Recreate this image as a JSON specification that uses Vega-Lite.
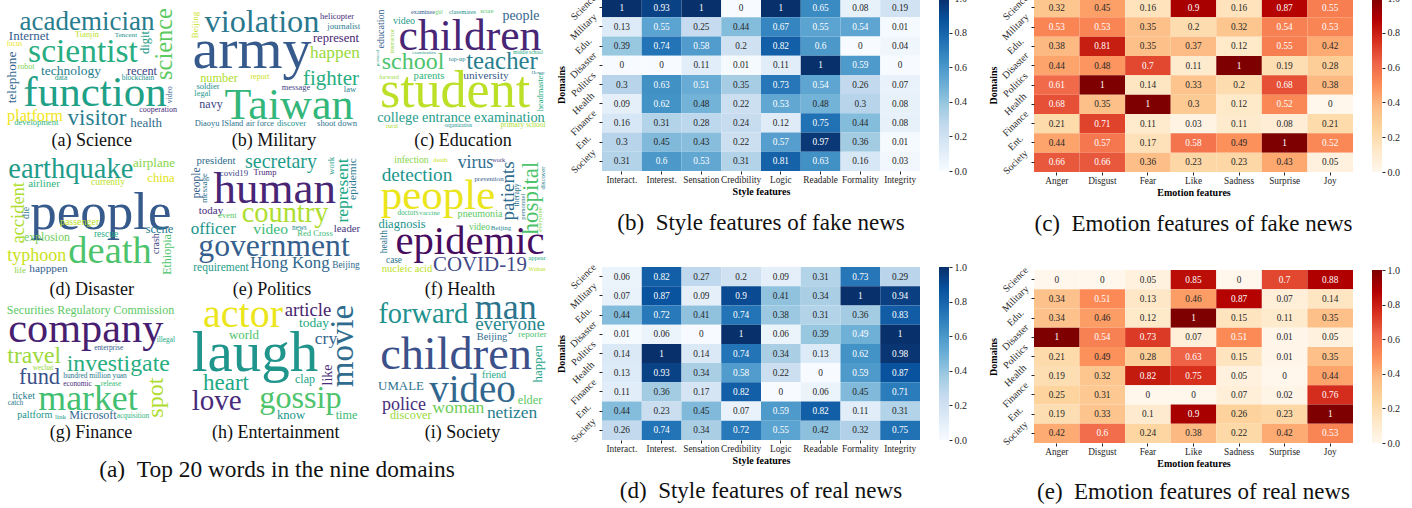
{"$schema":"https://vega.github.io/schema/vega-lite/v6.json","background":"white","autosize":{"type":"none"},"padding":{"left":0,"top":-2,"right":1412,"bottom":510},"spacing":21,"resolve":{"scale":{"color":"independent"}},"config":{"view":{"stroke":null},"font":"Liberation Serif","title":{"font":"Liberation Serif","fontWeight":"normal","fontSize":23,"orient":"bottom","anchor":"middle","frame":"group","offset":16,"color":"#111"},"axis":{"labelFont":"Liberation Serif","titleFont":"Liberation Serif","labelFontSize":10,"titleFontSize":10,"titleFontWeight":"bold","titleColor":"#000","labelColor":"#262626","tickColor":"#262626","tickSize":3,"domain":false,"grid":false,"labelOverlap":false,"labelBound":false,"labelFlush":false},"axisXBand":{"labelAngle":0,"labelPadding":1,"titlePadding":2,"labelFontSize":9.3},"axisYBand":{"labelAngle":-45,"labelAlign":"center","labelBaseline":"middle","labelPadding":16,"titlePadding":1}},"datasets":{"fakeStyle":[{"domain":"Science","feature":"Interact.","value":1},{"domain":"Science","feature":"Interest.","value":0.93},{"domain":"Science","feature":"Sensation","value":1},{"domain":"Science","feature":"Credibility","value":0},{"domain":"Science","feature":"Logic","value":1},{"domain":"Science","feature":"Readable","value":0.65},{"domain":"Science","feature":"Formality","value":0.08},{"domain":"Science","feature":"Integrity","value":0.19},{"domain":"Military","feature":"Interact.","value":0.13},{"domain":"Military","feature":"Interest.","value":0.55},{"domain":"Military","feature":"Sensation","value":0.25},{"domain":"Military","feature":"Credibility","value":0.44},{"domain":"Military","feature":"Logic","value":0.67},{"domain":"Military","feature":"Readable","value":0.55},{"domain":"Military","feature":"Formality","value":0.54},{"domain":"Military","feature":"Integrity","value":0.01},{"domain":"Edu.","feature":"Interact.","value":0.39},{"domain":"Edu.","feature":"Interest.","value":0.74},{"domain":"Edu.","feature":"Sensation","value":0.58},{"domain":"Edu.","feature":"Credibility","value":0.2},{"domain":"Edu.","feature":"Logic","value":0.82},{"domain":"Edu.","feature":"Readable","value":0.6},{"domain":"Edu.","feature":"Formality","value":0},{"domain":"Edu.","feature":"Integrity","value":0.04},{"domain":"Disaster","feature":"Interact.","value":0},{"domain":"Disaster","feature":"Interest.","value":0},{"domain":"Disaster","feature":"Sensation","value":0.11},{"domain":"Disaster","feature":"Credibility","value":0.01},{"domain":"Disaster","feature":"Logic","value":0.11},{"domain":"Disaster","feature":"Readable","value":1},{"domain":"Disaster","feature":"Formality","value":0.59},{"domain":"Disaster","feature":"Integrity","value":0},{"domain":"Politics","feature":"Interact.","value":0.3},{"domain":"Politics","feature":"Interest.","value":0.63},{"domain":"Politics","feature":"Sensation","value":0.51},{"domain":"Politics","feature":"Credibility","value":0.35},{"domain":"Politics","feature":"Logic","value":0.73},{"domain":"Politics","feature":"Readable","value":0.54},{"domain":"Politics","feature":"Formality","value":0.26},{"domain":"Politics","feature":"Integrity","value":0.07},{"domain":"Health","feature":"Interact.","value":0.09},{"domain":"Health","feature":"Interest.","value":0.62},{"domain":"Health","feature":"Sensation","value":0.48},{"domain":"Health","feature":"Credibility","value":0.22},{"domain":"Health","feature":"Logic","value":0.53},{"domain":"Health","feature":"Readable","value":0.48},{"domain":"Health","feature":"Formality","value":0.3},{"domain":"Health","feature":"Integrity","value":0.08},{"domain":"Finance","feature":"Interact.","value":0.16},{"domain":"Finance","feature":"Interest.","value":0.31},{"domain":"Finance","feature":"Sensation","value":0.28},{"domain":"Finance","feature":"Credibility","value":0.24},{"domain":"Finance","feature":"Logic","value":0.12},{"domain":"Finance","feature":"Readable","value":0.75},{"domain":"Finance","feature":"Formality","value":0.44},{"domain":"Finance","feature":"Integrity","value":0.08},{"domain":"Ent.","feature":"Interact.","value":0.3},{"domain":"Ent.","feature":"Interest.","value":0.45},{"domain":"Ent.","feature":"Sensation","value":0.43},{"domain":"Ent.","feature":"Credibility","value":0.22},{"domain":"Ent.","feature":"Logic","value":0.57},{"domain":"Ent.","feature":"Readable","value":0.97},{"domain":"Ent.","feature":"Formality","value":0.36},{"domain":"Ent.","feature":"Integrity","value":0.01},{"domain":"Society","feature":"Interact.","value":0.31},{"domain":"Society","feature":"Interest.","value":0.6},{"domain":"Society","feature":"Sensation","value":0.53},{"domain":"Society","feature":"Credibility","value":0.31},{"domain":"Society","feature":"Logic","value":0.81},{"domain":"Society","feature":"Readable","value":0.63},{"domain":"Society","feature":"Formality","value":0.16},{"domain":"Society","feature":"Integrity","value":0.03}],"realStyle":[{"domain":"Science","feature":"Interact.","value":0.06},{"domain":"Science","feature":"Interest.","value":0.82},{"domain":"Science","feature":"Sensation","value":0.27},{"domain":"Science","feature":"Credibility","value":0.2},{"domain":"Science","feature":"Logic","value":0.09},{"domain":"Science","feature":"Readable","value":0.31},{"domain":"Science","feature":"Formality","value":0.73},{"domain":"Science","feature":"Integrity","value":0.29},{"domain":"Military","feature":"Interact.","value":0.07},{"domain":"Military","feature":"Interest.","value":0.87},{"domain":"Military","feature":"Sensation","value":0.09},{"domain":"Military","feature":"Credibility","value":0.9},{"domain":"Military","feature":"Logic","value":0.41},{"domain":"Military","feature":"Readable","value":0.34},{"domain":"Military","feature":"Formality","value":1},{"domain":"Military","feature":"Integrity","value":0.94},{"domain":"Edu.","feature":"Interact.","value":0.44},{"domain":"Edu.","feature":"Interest.","value":0.72},{"domain":"Edu.","feature":"Sensation","value":0.41},{"domain":"Edu.","feature":"Credibility","value":0.74},{"domain":"Edu.","feature":"Logic","value":0.38},{"domain":"Edu.","feature":"Readable","value":0.31},{"domain":"Edu.","feature":"Formality","value":0.36},{"domain":"Edu.","feature":"Integrity","value":0.83},{"domain":"Disaster","feature":"Interact.","value":0.01},{"domain":"Disaster","feature":"Interest.","value":0.06},{"domain":"Disaster","feature":"Sensation","value":0},{"domain":"Disaster","feature":"Credibility","value":1},{"domain":"Disaster","feature":"Logic","value":0.06},{"domain":"Disaster","feature":"Readable","value":0.39},{"domain":"Disaster","feature":"Formality","value":0.49},{"domain":"Disaster","feature":"Integrity","value":1},{"domain":"Politics","feature":"Interact.","value":0.14},{"domain":"Politics","feature":"Interest.","value":1},{"domain":"Politics","feature":"Sensation","value":0.14},{"domain":"Politics","feature":"Credibility","value":0.74},{"domain":"Politics","feature":"Logic","value":0.34},{"domain":"Politics","feature":"Readable","value":0.13},{"domain":"Politics","feature":"Formality","value":0.62},{"domain":"Politics","feature":"Integrity","value":0.98},{"domain":"Health","feature":"Interact.","value":0.13},{"domain":"Health","feature":"Interest.","value":0.93},{"domain":"Health","feature":"Sensation","value":0.34},{"domain":"Health","feature":"Credibility","value":0.58},{"domain":"Health","feature":"Logic","value":0.22},{"domain":"Health","feature":"Readable","value":0},{"domain":"Health","feature":"Formality","value":0.59},{"domain":"Health","feature":"Integrity","value":0.87},{"domain":"Finance","feature":"Interact.","value":0.11},{"domain":"Finance","feature":"Interest.","value":0.36},{"domain":"Finance","feature":"Sensation","value":0.17},{"domain":"Finance","feature":"Credibility","value":0.82},{"domain":"Finance","feature":"Logic","value":0},{"domain":"Finance","feature":"Readable","value":0.06},{"domain":"Finance","feature":"Formality","value":0.45},{"domain":"Finance","feature":"Integrity","value":0.71},{"domain":"Ent.","feature":"Interact.","value":0.44},{"domain":"Ent.","feature":"Interest.","value":0.23},{"domain":"Ent.","feature":"Sensation","value":0.45},{"domain":"Ent.","feature":"Credibility","value":0.07},{"domain":"Ent.","feature":"Logic","value":0.59},{"domain":"Ent.","feature":"Readable","value":0.82},{"domain":"Ent.","feature":"Formality","value":0.11},{"domain":"Ent.","feature":"Integrity","value":0.31},{"domain":"Society","feature":"Interact.","value":0.26},{"domain":"Society","feature":"Interest.","value":0.74},{"domain":"Society","feature":"Sensation","value":0.34},{"domain":"Society","feature":"Credibility","value":0.72},{"domain":"Society","feature":"Logic","value":0.55},{"domain":"Society","feature":"Readable","value":0.42},{"domain":"Society","feature":"Formality","value":0.32},{"domain":"Society","feature":"Integrity","value":0.75}],"fakeEmotion":[{"domain":"Science","feature":"Anger","value":0.32},{"domain":"Science","feature":"Disgust","value":0.45},{"domain":"Science","feature":"Fear","value":0.16},{"domain":"Science","feature":"Like","value":0.9},{"domain":"Science","feature":"Sadness","value":0.16},{"domain":"Science","feature":"Surprise","value":0.87},{"domain":"Science","feature":"Joy","value":0.55},{"domain":"Military","feature":"Anger","value":0.53},{"domain":"Military","feature":"Disgust","value":0.53},{"domain":"Military","feature":"Fear","value":0.35},{"domain":"Military","feature":"Like","value":0.2},{"domain":"Military","feature":"Sadness","value":0.32},{"domain":"Military","feature":"Surprise","value":0.54},{"domain":"Military","feature":"Joy","value":0.53},{"domain":"Edu.","feature":"Anger","value":0.38},{"domain":"Edu.","feature":"Disgust","value":0.81},{"domain":"Edu.","feature":"Fear","value":0.35},{"domain":"Edu.","feature":"Like","value":0.37},{"domain":"Edu.","feature":"Sadness","value":0.12},{"domain":"Edu.","feature":"Surprise","value":0.55},{"domain":"Edu.","feature":"Joy","value":0.42},{"domain":"Disaster","feature":"Anger","value":0.44},{"domain":"Disaster","feature":"Disgust","value":0.48},{"domain":"Disaster","feature":"Fear","value":0.7},{"domain":"Disaster","feature":"Like","value":0.11},{"domain":"Disaster","feature":"Sadness","value":1},{"domain":"Disaster","feature":"Surprise","value":0.19},{"domain":"Disaster","feature":"Joy","value":0.28},{"domain":"Politics","feature":"Anger","value":0.61},{"domain":"Politics","feature":"Disgust","value":1},{"domain":"Politics","feature":"Fear","value":0.14},{"domain":"Politics","feature":"Like","value":0.33},{"domain":"Politics","feature":"Sadness","value":0.2},{"domain":"Politics","feature":"Surprise","value":0.68},{"domain":"Politics","feature":"Joy","value":0.38},{"domain":"Health","feature":"Anger","value":0.68},{"domain":"Health","feature":"Disgust","value":0.35},{"domain":"Health","feature":"Fear","value":1},{"domain":"Health","feature":"Like","value":0.3},{"domain":"Health","feature":"Sadness","value":0.12},{"domain":"Health","feature":"Surprise","value":0.52},{"domain":"Health","feature":"Joy","value":0},{"domain":"Finance","feature":"Anger","value":0.21},{"domain":"Finance","feature":"Disgust","value":0.71},{"domain":"Finance","feature":"Fear","value":0.11},{"domain":"Finance","feature":"Like","value":0.03},{"domain":"Finance","feature":"Sadness","value":0.11},{"domain":"Finance","feature":"Surprise","value":0.08},{"domain":"Finance","feature":"Joy","value":0.21},{"domain":"Ent.","feature":"Anger","value":0.44},{"domain":"Ent.","feature":"Disgust","value":0.57},{"domain":"Ent.","feature":"Fear","value":0.17},{"domain":"Ent.","feature":"Like","value":0.58},{"domain":"Ent.","feature":"Sadness","value":0.49},{"domain":"Ent.","feature":"Surprise","value":1},{"domain":"Ent.","feature":"Joy","value":0.52},{"domain":"Society","feature":"Anger","value":0.66},{"domain":"Society","feature":"Disgust","value":0.66},{"domain":"Society","feature":"Fear","value":0.36},{"domain":"Society","feature":"Like","value":0.23},{"domain":"Society","feature":"Sadness","value":0.23},{"domain":"Society","feature":"Surprise","value":0.43},{"domain":"Society","feature":"Joy","value":0.05}],"realEmotion":[{"domain":"Science","feature":"Anger","value":0},{"domain":"Science","feature":"Disgust","value":0},{"domain":"Science","feature":"Fear","value":0.05},{"domain":"Science","feature":"Like","value":0.85},{"domain":"Science","feature":"Sadness","value":0},{"domain":"Science","feature":"Surprise","value":0.7},{"domain":"Science","feature":"Joy","value":0.88},{"domain":"Military","feature":"Anger","value":0.34},{"domain":"Military","feature":"Disgust","value":0.51},{"domain":"Military","feature":"Fear","value":0.13},{"domain":"Military","feature":"Like","value":0.46},{"domain":"Military","feature":"Sadness","value":0.87},{"domain":"Military","feature":"Surprise","value":0.07},{"domain":"Military","feature":"Joy","value":0.14},{"domain":"Edu.","feature":"Anger","value":0.34},{"domain":"Edu.","feature":"Disgust","value":0.46},{"domain":"Edu.","feature":"Fear","value":0.12},{"domain":"Edu.","feature":"Like","value":1},{"domain":"Edu.","feature":"Sadness","value":0.15},{"domain":"Edu.","feature":"Surprise","value":0.11},{"domain":"Edu.","feature":"Joy","value":0.35},{"domain":"Disaster","feature":"Anger","value":1},{"domain":"Disaster","feature":"Disgust","value":0.54},{"domain":"Disaster","feature":"Fear","value":0.73},{"domain":"Disaster","feature":"Like","value":0.07},{"domain":"Disaster","feature":"Sadness","value":0.51},{"domain":"Disaster","feature":"Surprise","value":0.01},{"domain":"Disaster","feature":"Joy","value":0.05},{"domain":"Politics","feature":"Anger","value":0.21},{"domain":"Politics","feature":"Disgust","value":0.49},{"domain":"Politics","feature":"Fear","value":0.28},{"domain":"Politics","feature":"Like","value":0.63},{"domain":"Politics","feature":"Sadness","value":0.15},{"domain":"Politics","feature":"Surprise","value":0.01},{"domain":"Politics","feature":"Joy","value":0.35},{"domain":"Health","feature":"Anger","value":0.19},{"domain":"Health","feature":"Disgust","value":0.32},{"domain":"Health","feature":"Fear","value":0.82},{"domain":"Health","feature":"Like","value":0.75},{"domain":"Health","feature":"Sadness","value":0.05},{"domain":"Health","feature":"Surprise","value":0},{"domain":"Health","feature":"Joy","value":0.44},{"domain":"Finance","feature":"Anger","value":0.25},{"domain":"Finance","feature":"Disgust","value":0.31},{"domain":"Finance","feature":"Fear","value":0},{"domain":"Finance","feature":"Like","value":0},{"domain":"Finance","feature":"Sadness","value":0.07},{"domain":"Finance","feature":"Surprise","value":0.02},{"domain":"Finance","feature":"Joy","value":0.76},{"domain":"Ent.","feature":"Anger","value":0.19},{"domain":"Ent.","feature":"Disgust","value":0.33},{"domain":"Ent.","feature":"Fear","value":0.1},{"domain":"Ent.","feature":"Like","value":0.9},{"domain":"Ent.","feature":"Sadness","value":0.26},{"domain":"Ent.","feature":"Surprise","value":0.23},{"domain":"Ent.","feature":"Joy","value":1},{"domain":"Society","feature":"Anger","value":0.42},{"domain":"Society","feature":"Disgust","value":0.6},{"domain":"Society","feature":"Fear","value":0.24},{"domain":"Society","feature":"Like","value":0.38},{"domain":"Society","feature":"Sadness","value":0.22},{"domain":"Society","feature":"Surprise","value":0.42},{"domain":"Society","feature":"Joy","value":0.53}],"captions":[{"caption":"(a) Science","x":91.7,"y":146,"size":18},{"caption":"(b) Military","x":274,"y":146,"size":18},{"caption":"(c) Education","x":463,"y":146,"size":18},{"caption":"(d) Disaster","x":91.7,"y":294.5,"size":18},{"caption":"(e) Politics","x":272,"y":294.5,"size":18},{"caption":"(f) Health","x":460,"y":294.5,"size":18},{"caption":"(g) Finance","x":91,"y":437.5,"size":18},{"caption":"(h) Entertainment","x":275.8,"y":437.5,"size":18},{"caption":"(i) Society","x":462.5,"y":437.5,"size":18},{"caption":"(a)\u2002Top 20 words in the nine domains","x":277,"y":476.7,"size":23.4}],"words":[{"domain":"Science","word":"academician","x":87,"y":29.5,"size":27,"tone":0.42,"orient":"h"},{"domain":"Science","word":"science","x":172,"y":44,"size":24.4,"tone":0.75,"orient":"v"},{"domain":"Science","word":"Internet","x":29,"y":40,"size":13,"tone":0.3,"orient":"h"},{"domain":"Science","word":"Tianjin","x":87,"y":37,"size":8.4,"tone":0.9,"orient":"h"},{"domain":"Science","word":"Tencent","x":126,"y":37,"size":7.1,"tone":0.5,"orient":"h"},{"domain":"Science","word":"focus","x":14.5,"y":46,"size":7.2,"tone":0.97,"orient":"h"},{"domain":"Science","word":"scientist","x":83,"y":62,"size":33.5,"tone":0.62,"orient":"h"},{"domain":"Science","word":"digit","x":149,"y":42.5,"size":12.5,"tone":0.55,"orient":"v"},{"domain":"Science","word":"telephone","x":16,"y":77.5,"size":13.3,"tone":0.33,"orient":"v"},{"domain":"Science","word":"robot","x":26,"y":69,"size":7.9,"tone":0.8,"orient":"h"},{"domain":"Science","word":"technology","x":71,"y":75,"size":13.5,"tone":0.42,"orient":"h"},{"domain":"Science","word":"data","x":61,"y":80,"size":7.6,"tone":0.55,"orient":"h"},{"domain":"Science","word":"recent","x":142,"y":75,"size":12.3,"tone":0.2,"orient":"h"},{"domain":"Science","word":"blockchain","x":138,"y":80.3,"size":7.4,"tone":0.5,"orient":"h"},{"domain":"Science","word":"function","x":95,"y":106,"size":43,"tone":0.57,"orient":"h"},{"domain":"Science","word":"video","x":172,"y":94.7,"size":7.6,"tone":0.3,"orient":"v"},{"domain":"Science","word":"platform","x":35,"y":120.7,"size":16.3,"tone":0.98,"orient":"h"},{"domain":"Science","word":"visitor","x":97,"y":125,"size":23,"tone":0.42,"orient":"h"},{"domain":"Science","word":"cooperation","x":158,"y":112,"size":8,"tone":0.12,"orient":"h"},{"domain":"Science","word":"health","x":146,"y":126.7,"size":13,"tone":0.36,"orient":"h"},{"domain":"Science","word":"development","x":36.3,"y":125,"size":8.5,"tone":0.65,"orient":"h"},{"domain":"Military","word":"Beijing","x":198,"y":25,"size":9,"tone":0.92,"orient":"v"},{"domain":"Military","word":"violation","x":262,"y":32,"size":32.3,"tone":0.4,"orient":"h"},{"domain":"Military","word":"army","x":252,"y":68,"size":58,"tone":0.28,"orient":"h"},{"domain":"Military","word":"helicopter","x":337,"y":18.5,"size":8.5,"tone":0.12,"orient":"h"},{"domain":"Military","word":"journalist","x":343.7,"y":28.5,"size":8.7,"tone":0.42,"orient":"h"},{"domain":"Military","word":"represent","x":336,"y":41.5,"size":12.6,"tone":0.1,"orient":"h"},{"domain":"Military","word":"happen","x":335,"y":58,"size":17.3,"tone":0.85,"orient":"h"},{"domain":"Military","word":"fighter","x":331,"y":85,"size":21,"tone":0.62,"orient":"h"},{"domain":"Military","word":"number","x":219,"y":82,"size":12.3,"tone":0.88,"orient":"h"},{"domain":"Military","word":"report","x":260,"y":79,"size":8,"tone":0.92,"orient":"h"},{"domain":"Military","word":"soldier","x":208,"y":88.5,"size":8.5,"tone":0.48,"orient":"h"},{"domain":"Military","word":"legal","x":202.5,"y":96,"size":8.4,"tone":0.55,"orient":"h"},{"domain":"Military","word":"navy","x":211,"y":108,"size":12,"tone":0.2,"orient":"h"},{"domain":"Military","word":"Taiwan","x":289,"y":118.5,"size":44,"tone":0.66,"orient":"h"},{"domain":"Military","word":"message","x":296,"y":90,"size":8.4,"tone":0.2,"orient":"h"},{"domain":"Military","word":"law","x":350,"y":92,"size":8.5,"tone":0.42,"orient":"h"},{"domain":"Military","word":"Diaoyu ISland","x":219,"y":126,"size":8.4,"tone":0.38,"orient":"h"},{"domain":"Military","word":"air force","x":260,"y":126,"size":8.4,"tone":0.38,"orient":"h"},{"domain":"Military","word":"discover","x":291.5,"y":126,"size":8.6,"tone":0.5,"orient":"h"},{"domain":"Military","word":"shoot down","x":337,"y":126,"size":8.6,"tone":0.38,"orient":"h"},{"domain":"Education","word":"education","x":384,"y":29,"size":10,"tone":0.3,"orient":"v"},{"domain":"Education","word":"examinee","x":423,"y":14,"size":6.3,"tone":0.3,"orient":"h"},{"domain":"Education","word":"girl","x":439,"y":14,"size":5.5,"tone":0.75,"orient":"h"},{"domain":"Education","word":"classmates","x":462.5,"y":14,"size":6.3,"tone":0.5,"orient":"h"},{"domain":"Education","word":"score","x":487,"y":13,"size":6.3,"tone":0.72,"orient":"h"},{"domain":"Education","word":"people","x":521,"y":19.5,"size":13.9,"tone":0.32,"orient":"h"},{"domain":"Education","word":"video","x":404,"y":23.5,"size":10,"tone":0.55,"orient":"h"},{"domain":"Education","word":"children","x":470,"y":50,"size":43.6,"tone":0.1,"orient":"h"},{"domain":"Education","word":"instructor","x":393.7,"y":41,"size":6.3,"tone":0.85,"orient":"v"},{"domain":"Education","word":"protocal","x":378.7,"y":58,"size":5,"tone":0.55,"orient":"v"},{"domain":"Education","word":"examination","x":424,"y":53.5,"size":4.8,"tone":0.55,"orient":"h"},{"domain":"Education","word":"middle school","x":528,"y":53.5,"size":5.3,"tone":0.6,"orient":"h"},{"domain":"Education","word":"school","x":413,"y":68.5,"size":24,"tone":0.72,"orient":"h"},{"domain":"Education","word":"top-up","x":457,"y":60.5,"size":6.4,"tone":0.45,"orient":"h"},{"domain":"Education","word":"teacher","x":502,"y":68.5,"size":24.8,"tone":0.42,"orient":"h"},{"domain":"Education","word":"forward","x":389,"y":78.5,"size":6.2,"tone":0.85,"orient":"h"},{"domain":"Education","word":"parents","x":429,"y":78.5,"size":10.7,"tone":0.65,"orient":"h"},{"domain":"Education","word":"university","x":486,"y":78.5,"size":11.4,"tone":0.28,"orient":"h"},{"domain":"Education","word":"Henan","x":538,"y":73.5,"size":5,"tone":0.42,"orient":"h"},{"domain":"Education","word":"student","x":455,"y":106.7,"size":52,"tone":0.9,"orient":"h"},{"domain":"Education","word":"headmaster","x":543,"y":92,"size":8.5,"tone":0.62,"orient":"v"},{"domain":"Education","word":"college entrance examination","x":461,"y":121.7,"size":14.3,"tone":0.55,"orient":"h"},{"domain":"Education","word":"rural","x":392,"y":127.7,"size":6.4,"tone":0.88,"orient":"h"},{"domain":"Education","word":"organization","x":458.3,"y":127,"size":5.5,"tone":0.5,"orient":"h"},{"domain":"Education","word":"primary school","x":523,"y":127,"size":7.5,"tone":0.88,"orient":"h"},{"domain":"Disaster","word":"earthquake","x":70.8,"y":178,"size":28.5,"tone":0.55,"orient":"h"},{"domain":"Disaster","word":"airplane","x":154,"y":166.7,"size":13,"tone":0.82,"orient":"h"},{"domain":"Disaster","word":"china","x":161,"y":182,"size":12.7,"tone":0.95,"orient":"h"},{"domain":"Disaster","word":"airliner","x":44,"y":186.7,"size":11,"tone":0.65,"orient":"h"},{"domain":"Disaster","word":"currently","x":108,"y":185,"size":9.4,"tone":0.9,"orient":"h"},{"domain":"Disaster","word":"accident","x":24.3,"y":212.8,"size":18.5,"tone":0.88,"orient":"v"},{"domain":"Disaster","word":"people","x":100.8,"y":229,"size":53,"tone":0.28,"orient":"h"},{"domain":"Disaster","word":"die","x":29.3,"y":213,"size":10,"tone":0.38,"orient":"v"},{"domain":"Disaster","word":"passenger","x":79.6,"y":225,"size":10,"tone":0.9,"orient":"h"},{"domain":"Disaster","word":"scene","x":159.5,"y":232.7,"size":12.5,"tone":0.42,"orient":"h"},{"domain":"Disaster","word":"rescue","x":106,"y":237,"size":9.5,"tone":0.62,"orient":"h"},{"domain":"Disaster","word":"explosion","x":47,"y":240.7,"size":11.8,"tone":0.78,"orient":"h"},{"domain":"Disaster","word":"crash","x":159.3,"y":243.7,"size":9.8,"tone":0.2,"orient":"v"},{"domain":"Disaster","word":"Ethiopia","x":171,"y":254.5,"size":12,"tone":0.72,"orient":"v"},{"domain":"Disaster","word":"typhoon","x":36.7,"y":260.7,"size":18,"tone":0.92,"orient":"h"},{"domain":"Disaster","word":"death","x":110,"y":263,"size":38.5,"tone":0.72,"orient":"h"},{"domain":"Disaster","word":"life","x":20,"y":273,"size":8.8,"tone":0.82,"orient":"h"},{"domain":"Disaster","word":"happpen","x":48.5,"y":271.7,"size":11.3,"tone":0.3,"orient":"h"},{"domain":"Politics","word":"president","x":216,"y":164,"size":10.7,"tone":0.35,"orient":"h"},{"domain":"Politics","word":"secretary","x":281,"y":168,"size":19.9,"tone":0.55,"orient":"h"},{"domain":"Politics","word":"covid19","x":234,"y":175.7,"size":8.8,"tone":0.2,"orient":"h"},{"domain":"Politics","word":"Trump","x":265,"y":175,"size":8.5,"tone":0.1,"orient":"h"},{"domain":"Politics","word":"people","x":200,"y":182.8,"size":11.6,"tone":0.3,"orient":"v"},{"domain":"Politics","word":"message","x":206.7,"y":188,"size":8.9,"tone":0.38,"orient":"v"},{"domain":"Politics","word":"human","x":274.7,"y":203,"size":45,"tone":0.1,"orient":"h"},{"domain":"Politics","word":"work","x":333.7,"y":165.8,"size":8.8,"tone":0.55,"orient":"v"},{"domain":"Politics","word":"represent","x":347.7,"y":190.5,"size":17.5,"tone":0.6,"orient":"v"},{"domain":"Politics","word":"epidemic","x":356.3,"y":179,"size":11.4,"tone":0.4,"orient":"v"},{"domain":"Politics","word":"today","x":211,"y":214.3,"size":11,"tone":0.13,"orient":"h"},{"domain":"Politics","word":"event","x":227.5,"y":217.7,"size":8.5,"tone":0.75,"orient":"h"},{"domain":"Politics","word":"country","x":285,"y":221.7,"size":28.4,"tone":0.88,"orient":"h"},{"domain":"Politics","word":"officer","x":213.3,"y":234,"size":17,"tone":0.52,"orient":"h"},{"domain":"Politics","word":"video","x":270.7,"y":234,"size":15.6,"tone":0.68,"orient":"h"},{"domain":"Politics","word":"news","x":299.5,"y":230,"size":7.2,"tone":0.45,"orient":"h"},{"domain":"Politics","word":"Red Cross","x":315,"y":235.7,"size":8.6,"tone":0.68,"orient":"h"},{"domain":"Politics","word":"leader","x":347,"y":231.7,"size":10.8,"tone":0.15,"orient":"h"},{"domain":"Politics","word":"government","x":274,"y":256,"size":31.7,"tone":0.3,"orient":"h"},{"domain":"Politics","word":"Hong Kong","x":290,"y":267.7,"size":16.9,"tone":0.33,"orient":"h"},{"domain":"Politics","word":"Beijing","x":346,"y":267.7,"size":9.4,"tone":0.35,"orient":"h"},{"domain":"Politics","word":"requirement","x":221,"y":271,"size":11.5,"tone":0.55,"orient":"h"},{"domain":"Health","word":"infection","x":411.5,"y":162.7,"size":9.7,"tone":0.82,"orient":"h"},{"domain":"Health","word":"death","x":440.5,"y":162,"size":6.6,"tone":0.92,"orient":"h"},{"domain":"Health","word":"virus","x":475.5,"y":168.3,"size":17.8,"tone":0.35,"orient":"h"},{"domain":"Health","word":"work","x":498.7,"y":162,"size":6.2,"tone":0.15,"orient":"h"},{"domain":"Health","word":"patients","x":514,"y":191,"size":19,"tone":0.35,"orient":"v"},{"domain":"Health","word":"hospital","x":538.3,"y":198,"size":23,"tone":0.72,"orient":"v"},{"domain":"Health","word":"discover","x":545,"y":178,"size":6.8,"tone":0.42,"orient":"v"},{"domain":"Health","word":"detection","x":417,"y":180.7,"size":19.3,"tone":0.52,"orient":"h"},{"domain":"Health","word":"prevention","x":489,"y":180.7,"size":6.8,"tone":0.3,"orient":"h"},{"domain":"Health","word":"therapy","x":519.3,"y":195,"size":7.7,"tone":0.38,"orient":"v"},{"domain":"Health","word":"personnel","x":525,"y":206.7,"size":6.7,"tone":0.38,"orient":"v"},{"domain":"Health","word":"everyone","x":542,"y":219.5,"size":6.7,"tone":0.82,"orient":"v"},{"domain":"Health","word":"people","x":438,"y":209,"size":43,"tone":0.97,"orient":"h"},{"domain":"Health","word":"doctors","x":408,"y":215,"size":7.2,"tone":0.68,"orient":"h"},{"domain":"Health","word":"vaccine","x":429.5,"y":215,"size":6.7,"tone":0.68,"orient":"h"},{"domain":"Health","word":"pneumonia","x":480,"y":217,"size":10.1,"tone":0.75,"orient":"h"},{"domain":"Health","word":"diagnosis","x":402,"y":228,"size":12.5,"tone":0.5,"orient":"h"},{"domain":"Health","word":"video","x":479.5,"y":230,"size":9.5,"tone":0.75,"orient":"h"},{"domain":"Health","word":"Beijing","x":501,"y":230,"size":6.9,"tone":0.45,"orient":"h"},{"domain":"Health","word":"health","x":387.3,"y":241.7,"size":9.5,"tone":0.38,"orient":"v"},{"domain":"Health","word":"epidemic","x":470,"y":254,"size":40.7,"tone":0.03,"orient":"h"},{"domain":"Health","word":"case","x":394,"y":263.3,"size":9.3,"tone":0.38,"orient":"h"},{"domain":"Health","word":"COVID-19","x":480,"y":270.7,"size":20.9,"tone":0.22,"orient":"h"},{"domain":"Health","word":"appear","x":537,"y":260,"size":6.5,"tone":0.6,"orient":"h"},{"domain":"Health","word":"Wuhan","x":537,"y":270.7,"size":6,"tone":0.9,"orient":"h"},{"domain":"Health","word":"nucleic acid","x":407,"y":271.7,"size":10.5,"tone":0.9,"orient":"h"},{"domain":"Finance","word":"Securities Regulatory Commission","x":90.5,"y":314,"size":12,"tone":0.75,"orient":"h"},{"domain":"Finance","word":"company","x":85.8,"y":341.7,"size":42.3,"tone":0.08,"orient":"h"},{"domain":"Finance","word":"illegal","x":165.8,"y":342.3,"size":7.3,"tone":0.6,"orient":"h"},{"domain":"Finance","word":"enterprise","x":108.7,"y":350,"size":7.4,"tone":0.3,"orient":"h"},{"domain":"Finance","word":"travel","x":34.2,"y":363.3,"size":23.6,"tone":0.85,"orient":"h"},{"domain":"Finance","word":"investigate","x":118.3,"y":371,"size":23.8,"tone":0.62,"orient":"h"},{"domain":"Finance","word":"wechat","x":43,"y":369.7,"size":7.3,"tone":0.85,"orient":"h"},{"domain":"Finance","word":"fund","x":39.5,"y":384,"size":22.4,"tone":0.25,"orient":"h"},{"domain":"Finance","word":"hundred million yuan","x":95,"y":378.3,"size":7.4,"tone":0.4,"orient":"h"},{"domain":"Finance","word":"economic","x":77.5,"y":386,"size":7.3,"tone":0.12,"orient":"h"},{"domain":"Finance","word":"release","x":111,"y":386,"size":7.4,"tone":0.68,"orient":"h"},{"domain":"Finance","word":"spot","x":163,"y":397.7,"size":24,"tone":0.88,"orient":"v"},{"domain":"Finance","word":"ticket","x":23.7,"y":398.7,"size":10.2,"tone":0.42,"orient":"h"},{"domain":"Finance","word":"catch","x":15.5,"y":405,"size":7.4,"tone":0.4,"orient":"h"},{"domain":"Finance","word":"market","x":88,"y":410,"size":35.8,"tone":0.7,"orient":"h"},{"domain":"Finance","word":"paltform","x":34.8,"y":417.7,"size":10.2,"tone":0.52,"orient":"h"},{"domain":"Finance","word":"link","x":60.5,"y":419,"size":7,"tone":0.55,"orient":"h"},{"domain":"Finance","word":"Microsoft","x":93,"y":419,"size":12,"tone":0.32,"orient":"h"},{"domain":"Finance","word":"acquisition","x":133,"y":417.7,"size":7.4,"tone":0.65,"orient":"h"},{"domain":"Entertainment","word":"actor","x":243,"y":327.3,"size":40,"tone":0.97,"orient":"h"},{"domain":"Entertainment","word":"article","x":308,"y":315.7,"size":18.7,"tone":0.08,"orient":"h"},{"domain":"Entertainment","word":"movie","x":353.3,"y":346,"size":33,"tone":0.35,"orient":"v"},{"domain":"Entertainment","word":"world","x":244,"y":339,"size":12.9,"tone":0.72,"orient":"h"},{"domain":"Entertainment","word":"today","x":314,"y":327.3,"size":13.5,"tone":0.6,"orient":"h"},{"domain":"Entertainment","word":"laugh","x":255,"y":371,"size":57,"tone":0.52,"orient":"h"},{"domain":"Entertainment","word":"cry","x":326,"y":344,"size":17.5,"tone":0.32,"orient":"h"},{"domain":"Entertainment","word":"clap","x":305,"y":383.3,"size":12,"tone":0.58,"orient":"h"},{"domain":"Entertainment","word":"like","x":332.3,"y":375,"size":14,"tone":0.13,"orient":"v"},{"domain":"Entertainment","word":"heart","x":226,"y":390,"size":23,"tone":0.6,"orient":"h"},{"domain":"Entertainment","word":"love","x":216.7,"y":410,"size":29,"tone":0.12,"orient":"h"},{"domain":"Entertainment","word":"gossip","x":300.5,"y":408,"size":32.2,"tone":0.72,"orient":"h"},{"domain":"Entertainment","word":"know","x":291,"y":419,"size":12.7,"tone":0.52,"orient":"h"},{"domain":"Entertainment","word":"time","x":346.5,"y":419,"size":12.2,"tone":0.68,"orient":"h"},{"domain":"Society","word":"forward","x":423.3,"y":323.3,"size":28.4,"tone":0.5,"orient":"h"},{"domain":"Society","word":"man","x":505.7,"y":319,"size":36,"tone":0.38,"orient":"h"},{"domain":"Society","word":"everyone","x":510,"y":330,"size":19,"tone":0.45,"orient":"h"},{"domain":"Society","word":"Beijing","x":492,"y":340,"size":10.4,"tone":0.35,"orient":"h"},{"domain":"Society","word":"reporter","x":532.5,"y":336.7,"size":9,"tone":0.72,"orient":"h"},{"domain":"Society","word":"children","x":456,"y":369,"size":46.3,"tone":0.24,"orient":"h"},{"domain":"Society","word":"friend","x":494,"y":377.7,"size":10,"tone":0.6,"orient":"h"},{"domain":"Society","word":"happen","x":541.7,"y":363.7,"size":13,"tone":0.58,"orient":"v"},{"domain":"Society","word":"UMALE","x":401,"y":390,"size":12.9,"tone":0.38,"orient":"h"},{"domain":"Society","word":"video","x":472.5,"y":401.7,"size":39,"tone":0.33,"orient":"h"},{"domain":"Society","word":"elder","x":530,"y":404.3,"size":12.3,"tone":0.75,"orient":"h"},{"domain":"Society","word":"police","x":404,"y":410,"size":18,"tone":0.12,"orient":"h"},{"domain":"Society","word":"woman","x":458.3,"y":413.3,"size":17.7,"tone":0.78,"orient":"h"},{"domain":"Society","word":"netizen","x":512,"y":417.7,"size":17.4,"tone":0.42,"orient":"h"},{"domain":"Society","word":"discover","x":410.8,"y":419.3,"size":12.3,"tone":0.85,"orient":"h"}]},"hconcat":[{"spacing":0,"resolve":{"scale":{"color":"independent"}},"hconcat":[{"width":556,"height":510,"layer":[{"data":{"name":"words"},"mark":{"type":"text","font":"Liberation Serif","align":"center","baseline":"alphabetic"},"encoding":{"x":{"field":"x","type":"quantitative","axis":null,"scale":{"domain":[0,556],"nice":false,"zero":false}},"y":{"field":"y","type":"quantitative","axis":null,"scale":{"domain":[-2,508],"reverse":true,"nice":false,"zero":false}},"text":{"field":"word"},"size":{"field":"size","type":"quantitative","legend":null,"scale":{"type":"linear","domain":[0,60],"range":[0,60]}},"angle":{"field":"orient","type":"nominal","legend":null,"scale":{"domain":["h","v"],"range":[0,270]}},"color":{"field":"tone","type":"quantitative","legend":null,"scale":{"scheme":"viridis","domain":[0,1]}}}},{"data":{"name":"captions"},"mark":{"type":"text","font":"Liberation Serif","align":"center","baseline":"alphabetic","color":"#111"},"encoding":{"x":{"field":"x","type":"quantitative","axis":null,"scale":{"domain":[0,556],"nice":false,"zero":false}},"y":{"field":"y","type":"quantitative","axis":null,"scale":{"domain":[-2,508],"reverse":true,"nice":false,"zero":false}},"text":{"field":"caption"},"size":{"field":"size","type":"quantitative","legend":null,"scale":{"type":"linear","domain":[0,60],"range":[0,60]}}}}]},{"spacing":25,"resolve":{"scale":{"color":"independent"}},"vconcat":[{"spacing":19,"resolve":{"scale":{"color":"independent"}},"hconcat":[{"title":"(b)\u2002Style features of fake news","width":318,"height":173,"data":{"name":"fakeStyle"},"encoding":{"x":{"field":"feature","type":"nominal","sort":null,"title":"Style features","scale":{"paddingInner":0,"paddingOuter":0}},"y":{"field":"domain","type":"nominal","sort":null,"title":"Domains","scale":{"paddingInner":0,"paddingOuter":0}}},"layer":[{"mark":"rect","encoding":{"color":{"field":"value","type":"quantitative","legend":null,"scale":{"domain":[0,0.125,0.25,0.375,0.5,0.625,0.75,0.875,1],"range":["#f7fbff","#deebf7","#c6dbef","#9ecae1","#6baed6","#4292c6","#2171b5","#08519c","#08306b"]}}}},{"mark":{"type":"text","font":"Liberation Serif","fontSize":9.3},"encoding":{"text":{"field":"value","type":"quantitative","format":".2~f"},"color":{"condition":{"test":"datum.value>=0.485","value":"#ffffff"},"value":"#262626"}}}]},{"width":10,"height":173,"data":{"values":[{"low":0,"high":1}]},"mark":{"type":"rect","fill":{"gradient":"linear","x1":0,"y1":1,"x2":0,"y2":0,"stops":[{"offset":0,"color":"#f7fbff"},{"offset":0.125,"color":"#deebf7"},{"offset":0.25,"color":"#c6dbef"},{"offset":0.375,"color":"#9ecae1"},{"offset":0.5,"color":"#6baed6"},{"offset":0.625,"color":"#4292c6"},{"offset":0.75,"color":"#2171b5"},{"offset":0.875,"color":"#08519c"},{"offset":1,"color":"#08306b"}]}},"encoding":{"y":{"field":"low","type":"quantitative","scale":{"domain":[0,1],"nice":false},"axis":{"orient":"right","title":null,"values":[0,0.2,0.4,0.6,0.8,1],"format":".1f","labelPadding":2}},"y2":{"field":"high"}}}]},{"spacing":19,"resolve":{"scale":{"color":"independent"}},"hconcat":[{"title":{"text":"(d)\u2002Style features of real news","offset":15},"width":318,"height":173,"data":{"name":"realStyle"},"encoding":{"x":{"field":"feature","type":"nominal","sort":null,"title":"Style features","scale":{"paddingInner":0,"paddingOuter":0}},"y":{"field":"domain","type":"nominal","sort":null,"title":"Domains","scale":{"paddingInner":0,"paddingOuter":0}}},"layer":[{"mark":"rect","encoding":{"color":{"field":"value","type":"quantitative","legend":null,"scale":{"domain":[0,0.125,0.25,0.375,0.5,0.625,0.75,0.875,1],"range":["#f7fbff","#deebf7","#c6dbef","#9ecae1","#6baed6","#4292c6","#2171b5","#08519c","#08306b"]}}}},{"mark":{"type":"text","font":"Liberation Serif","fontSize":9.3},"encoding":{"text":{"field":"value","type":"quantitative","format":".2~f"},"color":{"condition":{"test":"datum.value>=0.485","value":"#ffffff"},"value":"#262626"}}}]},{"width":10,"height":173,"data":{"values":[{"low":0,"high":1}]},"mark":{"type":"rect","fill":{"gradient":"linear","x1":0,"y1":1,"x2":0,"y2":0,"stops":[{"offset":0,"color":"#f7fbff"},{"offset":0.125,"color":"#deebf7"},{"offset":0.25,"color":"#c6dbef"},{"offset":0.375,"color":"#9ecae1"},{"offset":0.5,"color":"#6baed6"},{"offset":0.625,"color":"#4292c6"},{"offset":0.75,"color":"#2171b5"},{"offset":0.875,"color":"#08519c"},{"offset":1,"color":"#08306b"}]}},"encoding":{"y":{"field":"low","type":"quantitative","scale":{"domain":[0,1],"nice":false},"axis":{"orient":"right","title":null,"values":[0,0.2,0.4,0.6,0.8,1],"format":".1f","labelPadding":2}},"y2":{"field":"high"}}}]}]}]},{"spacing":27,"resolve":{"scale":{"color":"independent"}},"vconcat":[{"spacing":19,"resolve":{"scale":{"color":"independent"}},"hconcat":[{"title":"(c)\u2002Emotion features of fake news","width":319,"height":174,"data":{"name":"fakeEmotion"},"encoding":{"x":{"field":"feature","type":"nominal","sort":null,"title":"Emotion features","scale":{"paddingInner":0,"paddingOuter":0}},"y":{"field":"domain","type":"nominal","sort":null,"title":"Domains","scale":{"paddingInner":0,"paddingOuter":0}}},"layer":[{"mark":"rect","encoding":{"color":{"field":"value","type":"quantitative","legend":null,"scale":{"domain":[0,0.125,0.25,0.375,0.5,0.625,0.75,0.875,1],"range":["#fff7ec","#fee8c8","#fdd49e","#fdbb84","#fc8d59","#ef6548","#d7301f","#b30000","#7f0000"]}}}},{"mark":{"type":"text","font":"Liberation Serif","fontSize":9.3},"encoding":{"text":{"field":"value","type":"quantitative","format":".2~f"},"color":{"condition":{"test":"datum.value>=0.5","value":"#ffffff"},"value":"#262626"}}}]},{"width":10,"height":174,"data":{"values":[{"low":0,"high":1}]},"mark":{"type":"rect","fill":{"gradient":"linear","x1":0,"y1":1,"x2":0,"y2":0,"stops":[{"offset":0,"color":"#fff7ec"},{"offset":0.125,"color":"#fee8c8"},{"offset":0.25,"color":"#fdd49e"},{"offset":0.375,"color":"#fdbb84"},{"offset":0.5,"color":"#fc8d59"},{"offset":0.625,"color":"#ef6548"},{"offset":0.75,"color":"#d7301f"},{"offset":0.875,"color":"#b30000"},{"offset":1,"color":"#7f0000"}]}},"encoding":{"y":{"field":"low","type":"quantitative","scale":{"domain":[0,1],"nice":false},"axis":{"orient":"right","title":null,"values":[0,0.2,0.4,0.6,0.8,1],"format":".1f","labelPadding":2}},"y2":{"field":"high"}}}]},{"spacing":19,"resolve":{"scale":{"color":"independent"}},"hconcat":[{"title":{"text":"(e)\u2002Emotion features of real news","offset":13},"width":319,"height":173,"data":{"name":"realEmotion"},"encoding":{"x":{"field":"feature","type":"nominal","sort":null,"title":"Emotion features","scale":{"paddingInner":0,"paddingOuter":0}},"y":{"field":"domain","type":"nominal","sort":null,"title":"Domains","scale":{"paddingInner":0,"paddingOuter":0}}},"layer":[{"mark":"rect","encoding":{"color":{"field":"value","type":"quantitative","legend":null,"scale":{"domain":[0,0.125,0.25,0.375,0.5,0.625,0.75,0.875,1],"range":["#fff7ec","#fee8c8","#fdd49e","#fdbb84","#fc8d59","#ef6548","#d7301f","#b30000","#7f0000"]}}}},{"mark":{"type":"text","font":"Liberation Serif","fontSize":9.3},"encoding":{"text":{"field":"value","type":"quantitative","format":".2~f"},"color":{"condition":{"test":"datum.value>=0.5","value":"#ffffff"},"value":"#262626"}}}]},{"width":10,"height":173,"data":{"values":[{"low":0,"high":1}]},"mark":{"type":"rect","fill":{"gradient":"linear","x1":0,"y1":1,"x2":0,"y2":0,"stops":[{"offset":0,"color":"#fff7ec"},{"offset":0.125,"color":"#fee8c8"},{"offset":0.25,"color":"#fdd49e"},{"offset":0.375,"color":"#fdbb84"},{"offset":0.5,"color":"#fc8d59"},{"offset":0.625,"color":"#ef6548"},{"offset":0.75,"color":"#d7301f"},{"offset":0.875,"color":"#b30000"},{"offset":1,"color":"#7f0000"}]}},"encoding":{"y":{"field":"low","type":"quantitative","scale":{"domain":[0,1],"nice":false},"axis":{"orient":"right","title":null,"values":[0,0.2,0.4,0.6,0.8,1],"format":".1f","labelPadding":2}},"y2":{"field":"high"}}}]}]}]}
